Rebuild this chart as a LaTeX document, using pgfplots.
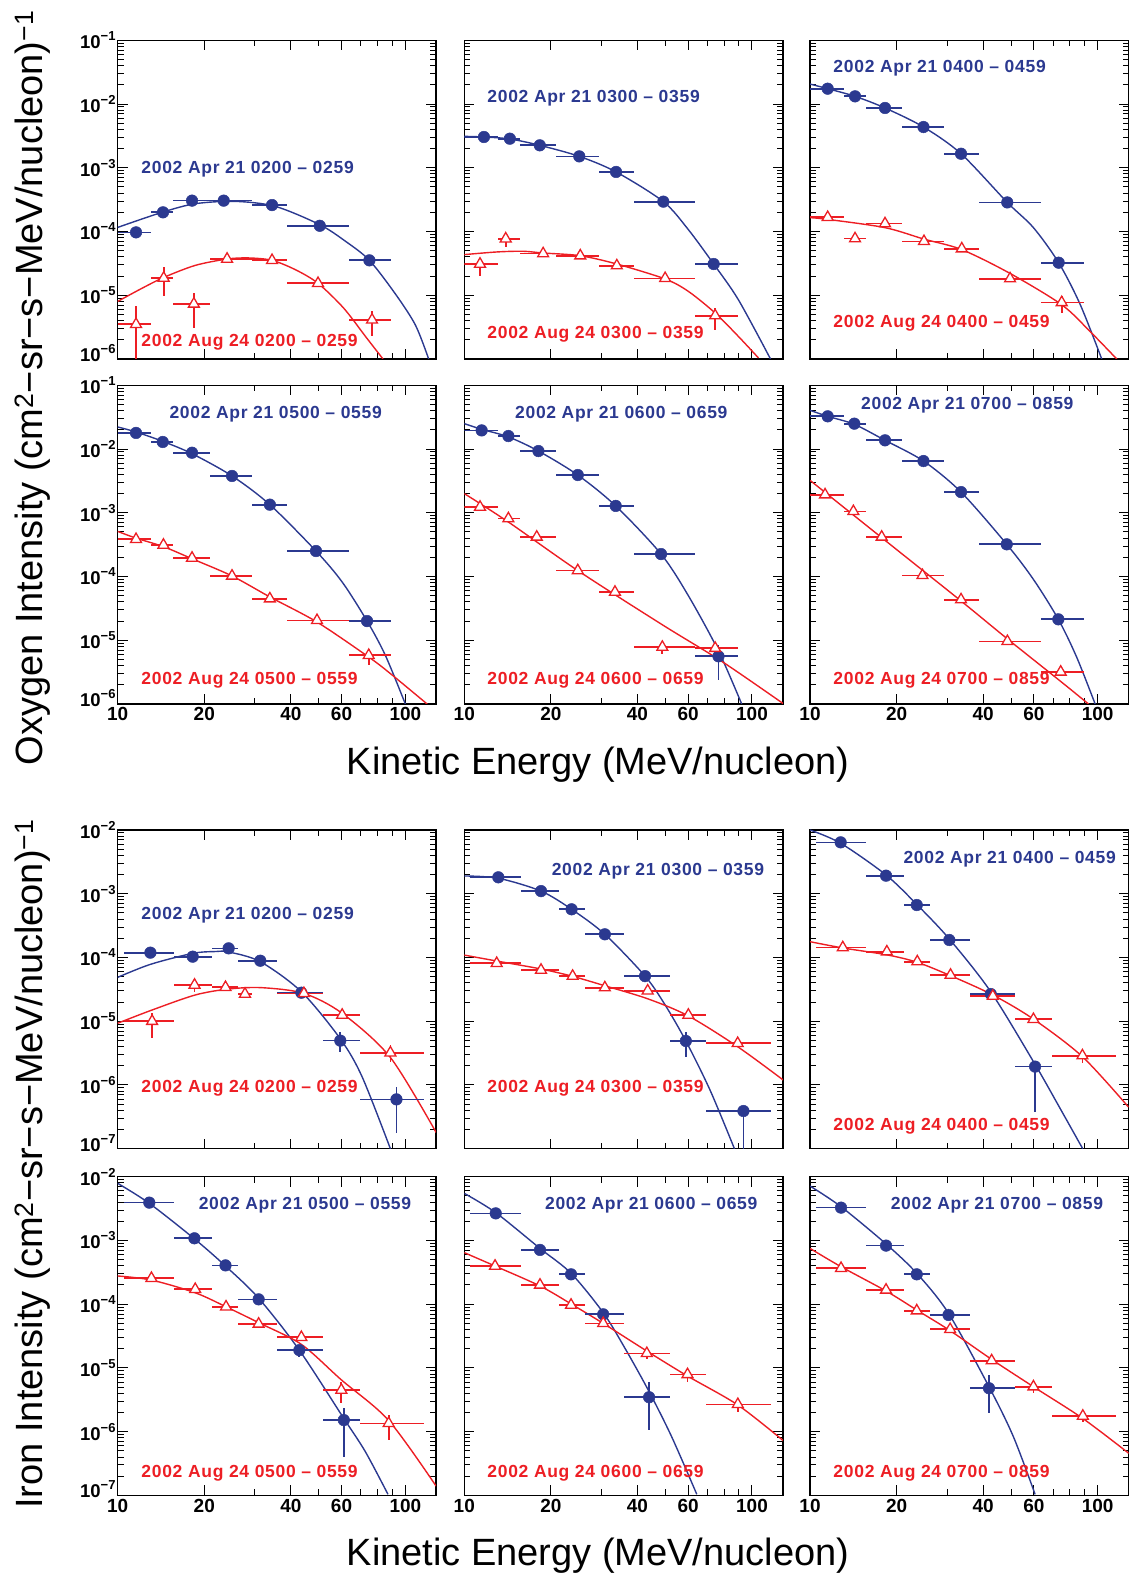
\documentclass[border=0pt]{standalone}
\usepackage{pgfplots}
\usepackage{pgfplotstable}
\pgfplotsset{compat=1.18}
\usepackage{fontspec}
\setmainfont{Liberation Sans}
\newfontfamily\labfont[LetterSpace=4]{Liberation Sans}
\definecolor{cb}{RGB}{43,57,144}
\definecolor{cr}{RGB}{237,30,36}

\newcommand{\tn}[1]{10\raisebox{8pt}{\fontsize{13}{13}\selectfont\bfseries −#1}}
\newcommand{\tnb}[1]{\raisebox{12pt}{\tn{#1}}}

\pgfkeys{/pgfplots/table/errtab/.style={x=x, y=y,
  x error plus expr=\thisrow{xh}-\thisrow{x},
  x error minus expr=\thisrow{x}-\thisrow{xl},
  y error plus expr=\thisrow{yh}-\thisrow{y},
  y error minus expr=\thisrow{y}-\thisrow{yl}}}

\tikzset{
  blab/.style={anchor=west, inner sep=0pt, text=cb, font=\labfont\fontsize{17.5}{17.5}\selectfont\bfseries},
  rlab/.style={anchor=west, inner sep=0pt, text=cr, font=\labfont\fontsize{17.5}{17.5}\selectfont\bfseries},
}

\pgfkeys{
  /pgfplots/mypan/.style={scale only axis, width=318.5pt, height=318.7pt, anchor=south west,
    xmin=10, xmax=128,
    xtick={10,20,40,60,100}, xticklabels={10,20,40,60,100},
    minor xtick={30,50,70,80,90},
    tick align=inside, xtick pos=both, ytick pos=both,
    major tick length=10pt, minor tick length=6pt,
    every tick/.append style={black, line width=1pt},
    axis line style={line width=1.5pt},
    xticklabel style={font=\fontsize{19}{19}\selectfont\bfseries},
    yticklabel style={font=\fontsize{18.5}{18.5}\selectfont\bfseries, inner sep=2pt},
  },
  /pgfplots/myoxy/.style={ymin=1e-6, ymax=1e-1,
    ytick={1e-6,1e-5,1e-4,1e-3,1e-2,1e-1},
    yticklabels={\tnb{6},\tn{5},\tn{4},\tn{3},\tn{2},\tn{1}},
    minor ytick={2e-6,3e-6,4e-6,5e-6,6e-6,7e-6,8e-6,9e-6,
      2e-5,3e-5,4e-5,5e-5,6e-5,7e-5,8e-5,9e-5,
      2e-4,3e-4,4e-4,5e-4,6e-4,7e-4,8e-4,9e-4,
      2e-3,3e-3,4e-3,5e-3,6e-3,7e-3,8e-3,9e-3,
      2e-2,3e-2,4e-2,5e-2,6e-2,7e-2,8e-2,9e-2}},
  /pgfplots/myfe/.style={ymin=1e-7, ymax=1e-2,
    ytick={1e-7,1e-6,1e-5,1e-4,1e-3,1e-2},
    yticklabels={\tnb{7},\tn{6},\tn{5},\tn{4},\tn{3},\tn{2}},
    minor ytick={2e-7,3e-7,4e-7,5e-7,6e-7,7e-7,8e-7,9e-7,
      2e-6,3e-6,4e-6,5e-6,6e-6,7e-6,8e-6,9e-6,
      2e-5,3e-5,4e-5,5e-5,6e-5,7e-5,8e-5,9e-5,
      2e-4,3e-4,4e-4,5e-4,6e-4,7e-4,8e-4,9e-4,
      2e-3,3e-3,4e-3,5e-3,6e-3,7e-3,8e-3,9e-3}},
  /pgfplots/myNoX/.style={xticklabel={\relax}},
  /pgfplots/myNoY/.style={yticklabel={\relax}},
  /pgfplots/myBc/.style={color=cb, line width=1.4pt, smooth, no markers},
  /pgfplots/myRc/.style={color=cr, line width=1.4pt, smooth, no markers},
  /pgfplots/myBp/.style={only marks, color=cb, mark=*, mark size=5.8pt,
    mark options={solid, fill=cb, draw=cb, line width=0.5pt},
    error bars/x dir=both, error bars/x explicit,
    error bars/y dir=both, error bars/y explicit,
    error bars/error mark=none,
    error bars/error bar style={line width=1.7pt, color=cb, solid}},
  /pgfplots/myRp/.style={only marks, color=cr, mark=triangle*, mark size=6.3pt,
    mark options={solid, fill=white, draw=cr, line width=1.3pt},
    error bars/x dir=both, error bars/x explicit,
    error bars/y dir=both, error bars/y explicit,
    error bars/error mark=none,
    error bars/error bar style={line width=1.7pt, color=cr, solid}},
}

% ---------------- Oxygen data: x y xl xh yl yh ----------------
\pgfplotstableread{
x y xl xh yl yh
11.58 9.7e-5 10 13.1 9.7e-5 9.7e-5
14.37 2.0e-4 13.1 15.6 2.0e-4 2.0e-4
18.13 3.05e-4 15.6 20.9 3.05e-4 3.05e-4
23.36 3.05e-4 20.9 29.3 3.05e-4 3.05e-4
34.4 2.6e-4 29.3 38.8 2.6e-4 2.6e-4
50.4 1.23e-4 38.8 63.5 1.23e-4 1.23e-4
75.0 3.53e-5 63.5 89.4 3.53e-5 3.53e-5
}\oAb
\pgfplotstableread{
x y xl xh yl yh
11.58 3.5e-6 10 13.1 1e-8 6.7e-6
14.45 1.86e-5 13.1 15.6 9.6e-6 2.73e-5
18.4 7.3e-6 15.6 20.9 3.06e-6 1.08e-5
24.0 3.7e-5 20.9 29.3 3.7e-5 3.7e-5
34.4 3.53e-5 29.3 38.8 3.53e-5 3.53e-5
49.7 1.54e-5 38.8 63.5 1.54e-5 1.54e-5
76.6 4.1e-6 63.5 89.4 2.27e-6 5.6e-6
}\oAr
\pgfplotstableread{
x y xl xh yl yh
11.7 3.04e-3 10 13.1 3.04e-3 3.04e-3
14.4 2.86e-3 13.1 15.6 2.86e-3 2.86e-3
18.3 2.25e-3 15.6 20.9 2.25e-3 2.25e-3
25.1 1.51e-3 20.9 29.3 1.51e-3 1.51e-3
33.7 8.6e-4 29.3 38.8 8.6e-4 8.6e-4
49.2 2.94e-4 38.8 63.5 2.94e-4 2.94e-4
73.6 3.09e-5 63.5 89.4 3.09e-5 3.09e-5
}\oBb
\pgfplotstableread{
x y xl xh yl yh
11.34 3.09e-5 10 13.1 1.98e-5 3.8e-5
13.93 7.7e-5 13.1 15.6 5.8e-5 9.4e-5
18.8 4.5e-5 15.6 20.9 4.5e-5 4.5e-5
25.3 4.17e-5 20.9 29.3 4.17e-5 4.17e-5
33.9 2.91e-5 29.3 38.8 2.91e-5 2.91e-5
49.9 1.84e-5 38.8 63.5 1.84e-5 1.84e-5
74.5 4.78e-6 63.5 89.4 2.9e-6 6.3e-6
}\oBr
\pgfplotstableread{
x y xl xh yl yh
11.52 1.74e-2 10 13.1 1.74e-2 1.74e-2
14.34 1.32e-2 13.1 15.6 1.32e-2 1.32e-2
18.23 8.67e-3 15.6 20.9 8.67e-3 8.67e-3
24.8 4.36e-3 20.9 29.3 4.36e-3 4.36e-3
33.5 1.66e-3 29.3 38.8 1.66e-3 1.66e-3
48.5 2.86e-4 38.8 63.5 2.86e-4 2.86e-4
73.2 3.24e-5 63.5 89.4 3.24e-5 3.24e-5
}\oCb
\pgfplotstableread{
x y xl xh yl yh
11.52 1.67e-4 10 13.1 1.67e-4 1.67e-4
14.34 7.73e-5 13.1 15.6 7.73e-5 7.73e-5
18.23 1.33e-4 15.6 20.9 1.33e-4 1.33e-4
24.9 7.0e-5 20.9 29.3 7.0e-5 7.0e-5
33.7 5.37e-5 29.3 38.8 5.37e-5 5.37e-5
49.6 1.82e-5 38.8 63.5 1.82e-5 1.82e-5
75.0 7.7e-6 63.5 89.4 5.25e-6 9.6e-6
}\oCr
\pgfplotstableread{
x y xl xh yl yh
11.58 1.79e-2 10 13.1 1.79e-2 1.79e-2
14.34 1.29e-2 13.1 15.6 1.29e-2 1.29e-2
18.13 8.75e-3 15.6 20.9 8.75e-3 8.75e-3
24.97 3.78e-3 20.9 29.3 3.78e-3 3.78e-3
33.8 1.34e-3 29.3 38.8 1.34e-3 1.34e-3
48.9 2.51e-4 38.8 63.5 2.51e-4 2.51e-4
73.6 2.0e-5 63.5 89.4 2.0e-5 2.0e-5
}\oDb
\pgfplotstableread{
x y xl xh yl yh
11.58 3.83e-4 10 13.1 3.83e-4 3.83e-4
14.42 3.12e-4 13.1 15.6 3.12e-4 3.12e-4
18.13 1.95e-4 15.6 20.9 1.95e-4 1.95e-4
24.97 1.02e-4 20.9 29.3 1.02e-4 1.02e-4
33.8 4.48e-5 29.3 38.8 4.48e-5 4.48e-5
49.3 2.05e-5 38.8 63.5 2.05e-5 2.05e-5
74.6 5.8e-6 63.5 89.4 4.05e-6 7.4e-6
}\oDr
\pgfplotstableread{
x y xl xh yl yh
11.49 1.96e-2 10 13.1 1.96e-2 1.96e-2
14.23 1.6e-2 13.1 15.6 1.6e-2 1.6e-2
18.1 9.3e-3 15.6 20.9 9.3e-3 9.3e-3
24.8 3.91e-3 20.9 29.3 3.91e-3 3.91e-3
33.6 1.28e-3 29.3 38.8 1.28e-3 1.28e-3
48.3 2.25e-4 38.8 63.5 2.25e-4 2.25e-4
76.5 5.6e-6 63.5 89.4 2.35e-6 8.3e-6
}\oEb
\pgfplotstableread{
x y xl xh yl yh
11.34 1.23e-3 10 13.1 1.23e-3 1.23e-3
14.23 8.1e-4 13.1 15.6 8.1e-4 8.1e-4
17.86 4.17e-4 15.6 20.9 4.17e-4 4.17e-4
24.8 1.24e-4 20.9 29.3 1.24e-4 1.24e-4
33.4 5.7e-5 29.3 38.8 5.7e-5 5.7e-5
48.8 7.8e-6 38.8 63.5 6.0e-6 9.0e-6
74.5 7.5e-6 63.5 89.4 5.2e-6 8.8e-6
}\oEr
\pgfplotstableread{
x y xl xh yl yh
11.52 3.26e-2 10 13.1 3.26e-2 3.26e-2
14.26 2.5e-2 13.1 15.6 2.5e-2 2.5e-2
18.23 1.37e-2 15.6 20.9 1.37e-2 1.37e-2
24.8 6.48e-3 20.9 29.3 6.48e-3 6.48e-3
33.5 2.11e-3 29.3 38.8 2.11e-3 2.11e-3
48.3 3.2e-4 38.8 63.5 3.2e-4 3.2e-4
73.0 2.13e-5 63.5 89.4 2.13e-5 2.13e-5
}\oFb
\pgfplotstableread{
x y xl xh yl yh
11.28 1.92e-3 10 13.1 1.92e-3 1.92e-3
14.15 1.05e-3 13.1 15.6 1.05e-3 1.05e-3
17.75 4.17e-4 15.6 20.9 4.17e-4 4.17e-4
24.6 1.04e-4 20.9 29.3 1.04e-4 1.04e-4
33.5 4.33e-5 29.3 38.8 4.33e-5 4.33e-5
48.55 9.6e-6 38.8 63.5 9.6e-6 9.6e-6
74.4 3.18e-6 63.5 89.4 3.18e-6 3.18e-6
}\oFr

% ---------------- Iron data ----------------
\pgfplotstableread{
x y xl xh yl yh
12.99 1.19e-4 10.5 15.7 1.19e-4 1.19e-4
18.23 1.03e-4 15.7 21.3 1.03e-4 1.03e-4
24.3 1.39e-4 21.3 26.2 1.39e-4 1.39e-4
31.3 8.9e-5 26.2 35.9 8.9e-5 8.9e-5
43.5 2.8e-5 35.9 51.8 2.8e-5 2.8e-5
59.4 4.96e-6 51.8 69.4 3.3e-6 6.85e-6
93.1 5.94e-7 69.4 116 1.74e-7 9.4e-7
}\fAb
\pgfplotstableread{
x y xl xh yl yh
13.17 1.0e-5 10.5 15.7 5.5e-6 1.33e-5
18.5 3.7e-5 15.7 21.3 2.9e-5 4.7e-5
23.7 3.4e-5 21.3 26.2 3.4e-5 3.4e-5
27.7 2.67e-5 26.2 29.3 2.67e-5 2.67e-5
44.4 2.73e-5 35.9 51.8 2.73e-5 2.73e-5
60.3 1.25e-5 51.8 69.4 1.25e-5 1.25e-5
88.7 3.2e-6 69.4 116 2.3e-6 4.3e-6
}\fAr
\pgfplotstableread{
x y xl xh yl yh
13.13 1.81e-3 10.5 15.7 1.81e-3 1.81e-3
18.48 1.1e-3 15.7 21.3 1.1e-3 1.1e-3
23.6 5.7e-4 21.3 26.2 5.7e-4 5.7e-4
30.8 2.31e-4 26.2 35.9 2.31e-4 2.31e-4
42.5 5.1e-5 35.9 51.8 5.1e-5 5.1e-5
58.9 4.9e-6 51.8 69.4 2.78e-6 6.85e-6
93.4 3.9e-7 69.4 116 1e-8 3.9e-7
}\fBb
\pgfplotstableread{
x y xl xh yl yh
12.96 8.1e-5 10.5 15.7 8.1e-5 8.1e-5
18.48 6.35e-5 15.7 21.3 6.35e-5 6.35e-5
23.8 5.1e-5 21.3 26.2 5.1e-5 5.1e-5
30.8 3.36e-5 26.2 35.9 3.36e-5 3.36e-5
43.4 3.0e-5 35.9 51.8 3.0e-5 3.0e-5
60.1 1.25e-5 51.8 69.4 1.1e-5 1.4e-5
89.2 4.5e-6 69.4 116 3.9e-6 5.2e-6
}\fBr
\pgfplotstableread{
x y xl xh yl yh
12.78 6.4e-3 10.5 15.7 6.4e-3 6.4e-3
18.38 1.92e-3 15.7 21.3 1.92e-3 1.92e-3
23.5 6.65e-4 21.3 26.2 6.65e-4 6.65e-4
30.5 1.88e-4 26.2 35.9 1.88e-4 1.88e-4
42.5 2.67e-5 35.9 51.8 2.4e-5 2.67e-5
60.6 1.94e-6 51.8 69.4 3.8e-7 1.94e-6
}\fCb
\pgfplotstableread{
x y xl xh yl yh
13.0 1.43e-4 10.5 15.7 1.43e-4 1.43e-4
18.5 1.23e-4 15.7 21.3 1.23e-4 1.23e-4
23.6 8.6e-5 21.3 26.2 8.6e-5 8.6e-5
30.8 5.3e-5 26.2 35.9 5.3e-5 5.3e-5
43.2 2.48e-5 35.9 51.8 2.48e-5 2.48e-5
59.8 1.07e-5 51.8 69.4 9.5e-6 1.07e-5
88.5 2.88e-6 69.4 116 2.2e-6 3.7e-6
}\fCr
\pgfplotstableread{
x y xl xh yl yh
12.88 3.92e-3 10.5 15.7 3.92e-3 3.92e-3
18.48 1.08e-3 15.7 21.3 1.08e-3 1.08e-3
23.7 4.06e-4 21.3 26.2 4.06e-4 4.06e-4
30.9 1.19e-4 26.2 35.9 1.19e-4 1.19e-4
42.8 1.9e-5 35.9 51.8 1.5e-5 1.9e-5
61.1 1.52e-6 51.8 69.4 4.05e-7 2.32e-6
}\fDb
\pgfplotstableread{
x y xl xh yl yh
13.1 2.55e-4 10.5 15.7 2.55e-4 2.55e-4
18.6 1.71e-4 15.7 21.3 1.71e-4 1.71e-4
23.8 9.1e-5 21.3 26.2 9.1e-5 9.1e-5
30.9 4.89e-5 26.2 35.9 4.89e-5 4.89e-5
43.5 3.02e-5 35.9 51.8 3.02e-5 3.02e-5
59.9 4.5e-6 51.8 69.4 2.78e-6 6.1e-6
87.5 1.35e-6 69.4 116 7.4e-7 1.82e-6
}\fDr
\pgfplotstableread{
x y xl xh yl yh
12.86 2.66e-3 10.5 15.7 2.66e-3 2.66e-3
18.33 7.1e-4 15.7 21.3 7.1e-4 7.1e-4
23.5 2.94e-4 21.3 26.2 2.94e-4 2.94e-4
30.4 6.93e-5 26.2 35.9 6.93e-5 6.93e-5
43.9 3.47e-6 35.9 51.8 1.06e-6 6.1e-6
}\fEb
\pgfplotstableread{
x y xl xh yl yh
12.79 3.97e-4 10.5 15.7 3.97e-4 3.97e-4
18.33 2.0e-4 15.7 21.3 2.0e-4 2.0e-4
23.5 9.7e-5 21.3 26.2 9.7e-5 9.7e-5
30.4 5.0e-5 26.2 35.9 5.0e-5 5.0e-5
43.1 1.69e-5 35.9 51.8 1.4e-5 1.69e-5
59.7 7.9e-6 51.8 69.4 6.0e-6 1.0e-5
89.3 2.68e-6 69.4 116 2.0e-6 3.4e-6
}\fEr
\pgfplotstableread{
x y xl xh yl yh
12.82 3.27e-3 10.5 15.7 3.27e-3 3.27e-3
18.38 8.3e-4 15.7 21.3 8.3e-4 8.3e-4
23.5 2.94e-4 21.3 26.2 2.94e-4 2.94e-4
30.3 6.77e-5 26.2 35.9 6.77e-5 6.77e-5
41.9 4.8e-6 35.9 51.8 1.99e-6 7.7e-6
}\fFb
\pgfplotstableread{
x y xl xh yl yh
12.82 3.66e-4 10.5 15.7 3.66e-4 3.66e-4
18.38 1.67e-4 15.7 21.3 1.67e-4 1.67e-4
23.5 7.9e-5 21.3 26.2 7.9e-5 7.9e-5
30.7 4.03e-5 26.2 35.9 4.03e-5 4.03e-5
42.8 1.3e-5 35.9 51.8 1.3e-5 1.3e-5
59.8 5.07e-6 51.8 69.4 4.0e-6 6.5e-6
88.8 1.76e-6 69.4 116 1.4e-6 2.2e-6
}\fFr

\begin{document}
\begin{tikzpicture}
\useasboundingbox (0pt,0pt) rectangle (1133pt,1580pt);

% ===================== OXYGEN =====================
\begin{loglogaxis}[mypan, myoxy, myNoX, at={(117.7pt,1221pt)}]
\addplot[myBc] coordinates {(10,1.16e-4) (14.26,2.0e-4) (18.6,2.73e-4) (25.6,2.97e-4) (35.3,2.48e-4) (50.4,1.28e-4) (62,7.0e-5) (75,3.53e-5) (92.3,1.05e-5) (108.4,3.4e-6) (120.5,1.0e-6)};
\addplot[myRc] coordinates {(10,8.0e-6) (12,1.25e-5) (14.45,1.9e-5) (18.6,2.94e-5) (24,3.7e-5) (28.5,3.85e-5) (34.4,3.53e-5) (41.6,2.5e-5) (49.7,1.54e-5) (61,6.3e-6) (73,2.2e-6) (83.6,1.0e-6)};
\addplot[myBp] table[errtab] {\oAb};
\addplot[myRp] table[errtab] {\oAr};
\node[blab] at (rel axis cs:0.074,0.597) {2002 Apr 21 0200 – 0259};
\node[rlab] at (rel axis cs:0.074,0.053) {2002 Aug 24 0200 – 0259};
\end{loglogaxis}

\begin{loglogaxis}[mypan, myoxy, myNoX, myNoY, at={(464.3pt,1221pt)}]
\addplot[myBc] coordinates {(10,3.11e-3) (11.7,3.04e-3) (14.4,2.83e-3) (18.3,2.25e-3) (25.1,1.51e-3) (33.7,8.6e-4) (49.2,2.94e-4) (60.1,1.07e-4) (73.6,3.09e-5) (89.7,8.5e-6) (116,1.0e-6)};
\addplot[myRc] coordinates {(10,4.34e-5) (13,4.78e-5) (16,4.9e-5) (18.8,4.6e-5) (25.3,4.17e-5) (33.9,3.09e-5) (49.9,1.8e-5) (60.1,1.15e-5) (74.5,5.26e-6) (89.7,2.26e-6) (105.3,1.04e-6)};
\addplot[myBp] table[errtab] {\oBb};
\addplot[myRp] table[errtab] {\oBr};
\node[blab] at (rel axis cs:0.072,0.817) {2002 Apr 21 0300 – 0359};
\node[rlab] at (rel axis cs:0.072,0.078) {2002 Aug 24 0300 – 0359};
\end{loglogaxis}

\begin{loglogaxis}[mypan, myoxy, myNoX, myNoY, at={(810pt,1221pt)}]
\addplot[myBc] coordinates {(10,2.06e-2) (11.52,1.74e-2) (14.34,1.32e-2) (18.23,8.67e-3) (24.8,4.36e-3) (33.5,1.66e-3) (48.5,2.86e-4) (59.8,1.15e-4) (73.2,3.24e-5) (86.9,7.2e-6) (103.3,1.0e-6)};
\addplot[myRc] coordinates {(10,1.65e-4) (11.52,1.55e-4) (18.23,1.15e-4) (24.9,7.6e-5) (33.7,5.2e-5) (49.6,2.2e-5) (75,7.1e-6) (94.1,2.7e-6) (116.5,1.0e-6)};
\addplot[myBp] table[errtab] {\oCb};
\addplot[myRp] table[errtab] {\oCr};
\node[blab] at (rel axis cs:0.073,0.913) {2002 Apr 21 0400 – 0459};
\node[rlab] at (rel axis cs:0.073,0.113) {2002 Aug 24 0400 – 0459};
\end{loglogaxis}

\begin{loglogaxis}[mypan, myoxy, at={(117.7pt,876pt)}]
\addplot[myBc] coordinates {(10,2.22e-2) (11.58,1.85e-2) (14.34,1.32e-2) (18.13,8.45e-3) (24.97,3.78e-3) (33.8,1.34e-3) (48.9,2.51e-4) (60.3,8.2e-5) (73.6,2.0e-5) (85.2,5.8e-6) (100,1.0e-6)};
\addplot[myRc] coordinates {(10,5.1e-4) (11.58,4.0e-4) (14.42,2.94e-4) (18.13,1.9e-4) (24.97,1.02e-4) (33.8,4.78e-5) (49.3,1.93e-5) (74.6,5.45e-6) (88.7,3.0e-6) (119,1.0e-6)};
\addplot[myBp] table[errtab] {\oDb};
\addplot[myRp] table[errtab] {\oDr};
\node[blab] at (rel axis cs:0.162,0.909) {2002 Apr 21 0500 – 0559};
\node[rlab] at (rel axis cs:0.074,0.074) {2002 Aug 24 0500 – 0559};
\end{loglogaxis}

\begin{loglogaxis}[mypan, myoxy, myNoY, at={(464.3pt,876pt)}]
\addplot[myBc] coordinates {(10,2.5e-2) (11.49,2.04e-2) (14.23,1.55e-2) (18.1,9.3e-3) (24.8,3.91e-3) (33.6,1.28e-3) (48.3,2.25e-4) (60.1,5.0e-5) (76.5,6.8e-6) (92.1,1.0e-6)};
\addplot[myRc] coordinates {(10,2.0e-3) (14.23,7.16e-4) (24.8,1.24e-4) (48.8,1.75e-5) (78.5,4.67e-6) (128.6,1.01e-6)};
\addplot[myBp] table[errtab] {\oEb};
\addplot[myRp] table[errtab] {\oEr};
\node[blab] at (rel axis cs:0.159,0.909) {2002 Apr 21 0600 – 0659};
\node[rlab] at (rel axis cs:0.072,0.074) {2002 Aug 24 0600 – 0659};
\end{loglogaxis}

\begin{loglogaxis}[mypan, myoxy, myNoY, at={(810pt,876pt)}]
\addplot[myBc] coordinates {(10,4.05e-2) (11.52,3.26e-2) (14.26,2.44e-2) (18.23,1.37e-2) (24.8,6.48e-3) (33.5,2.11e-3) (48.3,3.2e-4) (59.8,9.0e-5) (73.0,2.13e-5) (84.5,5.45e-6) (98,1.0e-6)};
\addplot[myRc] coordinates {(10,3.23e-3) (17.75,4.07e-4) (33.5,4.13e-5) (48.55,1.05e-5) (74.4,2.26e-6) (92.9,1.0e-6)};
\addplot[myBp] table[errtab] {\oFb};
\addplot[myRp] table[errtab] {\oFr};
\node[blab] at (rel axis cs:0.160,0.937) {2002 Apr 21 0700 – 0859};
\node[rlab] at (rel axis cs:0.073,0.074) {2002 Aug 24 0700 – 0859};
\end{loglogaxis}

% ===================== IRON =====================
\begin{loglogaxis}[mypan, myfe, myNoX, at={(117.7pt,431.3pt)}]
\addplot[myBc] coordinates {(10,4.88e-5) (12.99,7.8e-5) (18.23,1.16e-4) (21.9,1.24e-4) (24.3,1.22e-4) (31.3,8.6e-5) (43.5,2.9e-5) (59.4,5.3e-6) (70.7,1.35e-6) (88.7,1.0e-7)};
\addplot[myRc] coordinates {(10,9.3e-6) (13.17,1.5e-5) (18.6,2.58e-5) (24.3,3.2e-5) (31.7,3.36e-5) (44.4,2.73e-5) (60.3,1.33e-5) (88.7,2.7e-6) (127.9,1.8e-7)};
\addplot[myBp] table[errtab] {\fAb};
\addplot[myRp] table[errtab] {\fAr};
\node[blab] at (rel axis cs:0.074,0.733) {2002 Apr 21 0200 – 0259};
\node[rlab] at (rel axis cs:0.074,0.19) {2002 Aug 24 0200 – 0259};
\end{loglogaxis}

\begin{loglogaxis}[mypan, myfe, myNoX, myNoY, at={(464.3pt,431.3pt)}]
\addplot[myBc] coordinates {(10,1.9e-3) (13.13,1.75e-3) (18.48,1.1e-3) (23.6,5.7e-4) (30.8,2.31e-4) (42.5,5.1e-5) (49.9,1.8e-5) (58.9,4.9e-6) (71.5,8.3e-7) (86.9,1.0e-7)};
\addplot[myRc] coordinates {(10,1.09e-4) (12.96,8.8e-5) (18.48,6.6e-5) (23.8,5.06e-5) (30.8,3.6e-5) (43.4,2.25e-5) (60.1,1.21e-5) (89.2,3.98e-6) (128.6,1.19e-6)};
\addplot[myBp] table[errtab] {\fBb};
\addplot[myRp] table[errtab] {\fBr};
\node[blab] at (rel axis cs:0.274,0.871) {2002 Apr 21 0300 – 0359};
\node[rlab] at (rel axis cs:0.072,0.19) {2002 Aug 24 0300 – 0359};
\end{loglogaxis}

\begin{loglogaxis}[mypan, myfe, myNoX, myNoY, at={(810pt,431.3pt)}]
\addplot[myBc] coordinates {(10,1.0e-2) (12.78,6.2e-3) (18.38,1.97e-3) (23.5,6.8e-4) (30.5,1.95e-4) (42.5,2.9e-5) (60.6,2.1e-6) (74.0,4.3e-7) (88.7,1.0e-7)};
\addplot[myRc] coordinates {(10,1.77e-4) (13.0,1.41e-4) (18.5,1.1e-4) (23.6,8.4e-5) (30.8,5.18e-5) (43.2,2.58e-5) (59.8,1.08e-5) (88.5,2.78e-6) (128,4.5e-7)};
\addplot[myBp] table[errtab] {\fCb};
\addplot[myRp] table[errtab] {\fCr};
\node[blab] at (rel axis cs:0.293,0.908) {2002 Apr 21 0400 – 0459};
\node[rlab] at (rel axis cs:0.073,0.069) {2002 Aug 24 0400 – 0459};
\end{loglogaxis}

\begin{loglogaxis}[mypan, myfe, at={(117.7pt,84.6pt)}]
\addplot[myBc] coordinates {(10,7.87e-3) (12.88,3.82e-3) (18.48,1.06e-3) (23.7,3.97e-4) (30.9,1.24e-4) (42.8,1.9e-5) (61.1,1.61e-6) (72.6,4.85e-7) (87.0,1.04e-7)};
\addplot[myRc] coordinates {(10,2.77e-4) (13.1,2.39e-4) (18.6,1.51e-4) (23.8,9.1e-5) (30.9,5.13e-5) (43.5,2.34e-5) (59.9,6.5e-6) (87.5,1.5e-6) (127.9,1.4e-7)};
\addplot[myBp] table[errtab] {\fDb};
\addplot[myRp] table[errtab] {\fDr};
\node[blab] at (rel axis cs:0.254,0.909) {2002 Apr 21 0500 – 0559};
\node[rlab] at (rel axis cs:0.074,0.071) {2002 Aug 24 0500 – 0559};
\end{loglogaxis}

\begin{loglogaxis}[mypan, myfe, myNoY, at={(464.3pt,84.6pt)}]
\addplot[myBc] coordinates {(10,5.48e-3) (12.86,2.73e-3) (18.33,7.5e-4) (23.5,3.05e-4) (30.4,7.36e-5) (36.2,2.03e-5) (43.9,4.24e-6) (52.6,8.3e-7) (64.3,1.04e-7)};
\addplot[myRc] coordinates {(10,6.43e-4) (12.79,3.97e-4) (18.33,1.93e-4) (23.5,1.01e-4) (30.4,5.0e-5) (43.1,1.84e-5) (59.7,7.46e-6) (89.3,2.62e-6) (128.6,7.2e-7)};
\addplot[myBp] table[errtab] {\fEb};
\addplot[myRp] table[errtab] {\fEr};
\node[blab] at (rel axis cs:0.253,0.909) {2002 Apr 21 0600 – 0659};
\node[rlab] at (rel axis cs:0.072,0.071) {2002 Aug 24 0600 – 0659};
\end{loglogaxis}

\begin{loglogaxis}[mypan, myfe, myNoY, at={(810pt,84.6pt)}]
\addplot[myBc] coordinates {(10,7.14e-3) (12.82,3.38e-3) (18.38,8.8e-4) (23.5,3.05e-4) (30.3,7.2e-5) (41.9,5.07e-6) (50.9,8.4e-7) (60.6,1.04e-7)};
\addplot[myRc] coordinates {(10,7.5e-4) (12.82,3.87e-4) (18.38,1.61e-4) (23.5,8.1e-5) (30.7,3.84e-5) (42.8,1.36e-5) (59.8,5.07e-6) (88.8,1.61e-6) (128.3,4.57e-7)};
\addplot[myBp] table[errtab] {\fFb};
\addplot[myRp] table[errtab] {\fFr};
\node[blab] at (rel axis cs:0.253,0.909) {2002 Apr 21 0700 – 0859};
\node[rlab] at (rel axis cs:0.073,0.071) {2002 Aug 24 0700 – 0859};
\end{loglogaxis}

% ===================== Titles =====================
\node[rotate=90, font=\fontsize{38}{38}\selectfont] at (33pt,1192pt)
  {Oxygen Intensity (cm\textsuperscript{2}−sr−s−MeV/nucleon)\textsuperscript{−1}};
\node[rotate=90, font=\fontsize{38}{38}\selectfont] at (33pt,416pt)
  {Iron Intensity (cm\textsuperscript{2}−sr−s−MeV/nucleon)\textsuperscript{−1}};
\node[font=\fontsize{38}{38}\selectfont] at (598pt,815pt) {Kinetic Energy (MeV/nucleon)};
\node[font=\fontsize{38}{38}\selectfont] at (598pt,24pt) {Kinetic Energy (MeV/nucleon)};
\end{tikzpicture}
\end{document}
